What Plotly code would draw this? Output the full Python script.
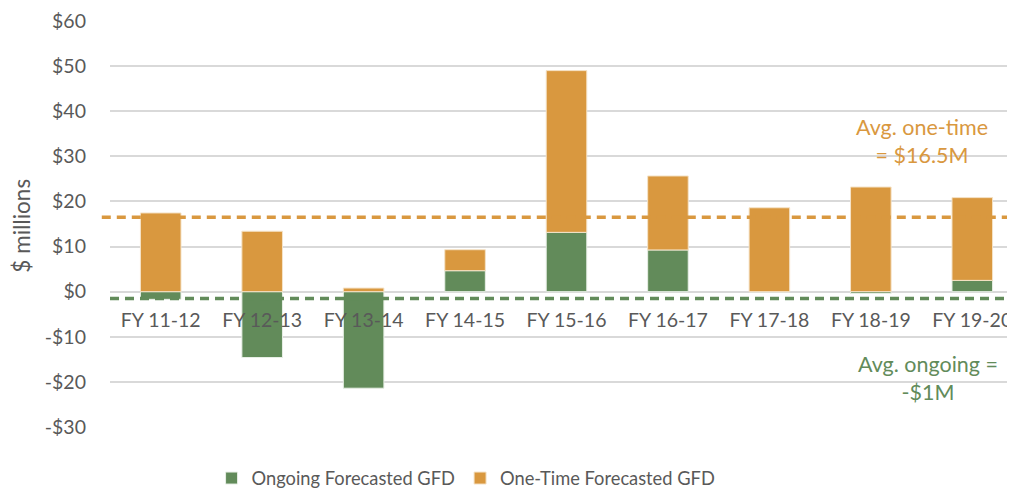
import plotly.graph_objects as go

categories = ["FY 11-12", "FY 12-13", "FY 13-14", "FY 14-15", "FY 15-16",
              "FY 16-17", "FY 17-18", "FY 18-19", "FY 19-20"]
ongoing = [-1.7, -14.6, -21.4, 4.65, 13.15, 9.25, 0.0, -0.4, 2.5]
one_time = [17.45, 13.4, 0.8, 4.65, 35.85, 16.4, 18.6, 23.2, 18.35]
avg_one_time = 16.5
avg_ongoing = -1.5
y_tick_values = [-30, -20, -10, 0, 10, 20, 30, 40, 50, 60]
y_tick_labels = ["-$30", "-$20", "-$10", "$0", "$10", "$20", "$30", "$40", "$50", "$60"]

GREEN = "#628B5A"
ORANGE = "#D9983F"
TEXT = "#595959"
FONT = "Lato"

fig = go.Figure()
fig.add_trace(go.Bar(x=categories, y=ongoing, name="Ongoing Forecasted GFD",
                     marker=dict(color=GREEN, line=dict(color="#E8EFE6", width=1))))
fig.add_trace(go.Bar(x=categories, y=one_time, name="One-Time Forecasted GFD",
                     marker=dict(color=ORANGE, line=dict(color="#F5E3C8", width=1))))

fig.add_shape(type="line", xref="paper", yref="y", x0=-0.009, x1=1,
              y0=avg_one_time, y1=avg_one_time,
              line=dict(color=ORANGE, width=3.5, dash="9px,6px"), layer="above")
fig.add_shape(type="line", xref="paper", yref="y", x0=0, x1=1,
              y0=avg_ongoing, y1=avg_ongoing,
              line=dict(color=GREEN, width=3.5, dash="9px,6px"), layer="above")

fig.add_annotation(x=7.505, y=33.4, xref="x", yref="y",
                   text="Avg. one-time<br>= $16.5M", showarrow=False,
                   font=dict(family=FONT, size=21.5, color=ORANGE), align="center")
fig.add_annotation(x=7.56, y=-19.1, xref="x", yref="y",
                   text="Avg. ongoing =<br>-$1M", showarrow=False,
                   font=dict(family=FONT, size=21.5, color=GREEN), align="center")
# y-axis title
fig.add_annotation(x=-0.097, y=0.497, xref="paper", yref="paper",
                   text="$ millions", showarrow=False, textangle=-90,
                   font=dict(family=FONT, size=22.5, color=TEXT),
                   xanchor="center", yanchor="middle", borderpad=0)

fig.update_layout(
    width=1015, height=493,
    margin=dict(l=102, r=0, t=13, b=74, autoexpand=False),
    barmode="relative", bargap=0.6,
    plot_bgcolor="white", paper_bgcolor="white",
    font=dict(family=FONT, size=18, color=TEXT),
    showlegend=True,
    legend=dict(orientation="h", x=0.39, xanchor="center", y=-0.126, yanchor="middle",
                font=dict(family=FONT, size=18.3, color=TEXT), itemwidth=30,
                traceorder="normal"),
    xaxis=dict(range=[-0.5, 8.5], anchor="free", position=(0 - (-30)) / 90,
               showline=False, showgrid=False, zeroline=False, ticks="", automargin=False,
               tickfont=dict(family=FONT, size=19.5, color=TEXT), ticklabelstandoff=15),
    yaxis=dict(range=[-30, 60], tickvals=y_tick_values, ticktext=y_tick_labels,
               showgrid=True, gridcolor="#D9D9D9", gridwidth=1.5,
               zeroline=True, zerolinecolor="#D9D9D9", zerolinewidth=1.5,
               showline=False, ticks="", ticklabelstandoff=23, automargin=False,
               tickfont=dict(family=FONT, size=19.5, color=TEXT)),
)

fig.write_html("out.html")
